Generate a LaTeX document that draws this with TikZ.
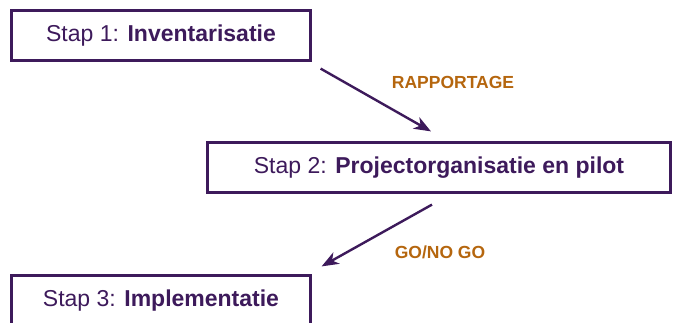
\documentclass[tikz,border=0pt]{standalone}
\usepackage{fontspec}
\setmainfont{Liberation Sans}
\usetikzlibrary{arrows.meta,positioning}
\definecolor{stappaars}{HTML}{3D1A5B}
\definecolor{labeloranje}{HTML}{B5660E}

\begin{document}
\begin{tikzpicture}[x=1pt,y=1pt,
    stapbox/.style={draw=stappaars, line width=2.2pt, rectangle,
        minimum height=50pt, inner sep=0pt, text=stappaars,
        font=\fontsize{23}{28}\selectfont},
    overgang/.style={draw=stappaars, line width=2.4pt,
        -{Stealth[length=17pt,width=13pt,inset=5pt]}},
    besluit/.style={text=labeloranje, font=\fontsize{17.5}{21}\selectfont\bfseries}]

\useasboundingbox (0,0) rectangle (676,-322);

% Steps
\node[stapbox, minimum width=299pt] (stap1) at (161,-35.5)
    {Stap 1: \textbf{Inventarisatie}};

\node[stapbox, minimum width=463pt] (stap2) at (439,-167.5)
    {Stap 2: \textbf{Projectorganisatie en pilot}};

\node[stapbox, minimum width=299pt] (stap3) at (161,-300.5)
    {Stap 3: \textbf{Implementatie}};

% Arrow ends
\coordinate (van1) at ([shift={(9,-7)}]stap1.south east);
\coordinate (naar2) at ([shift={(-8,10)}]stap2.north);
\coordinate (van2) at ([shift={(-7,-11)}]stap2.south);
\coordinate (naar3) at ([shift={(10,8)}]stap3.north east);

% Arrows
\draw[overgang] (van1) -- (naar2);
\draw[overgang] (van2) -- (naar3);

% Labels
\node[besluit] (rapportage) at (453,-82) {RAPPORTAGE};
\node[besluit] (gonogo) at (440,-252) {GO/NO GO};

\end{tikzpicture}
\end{document}
